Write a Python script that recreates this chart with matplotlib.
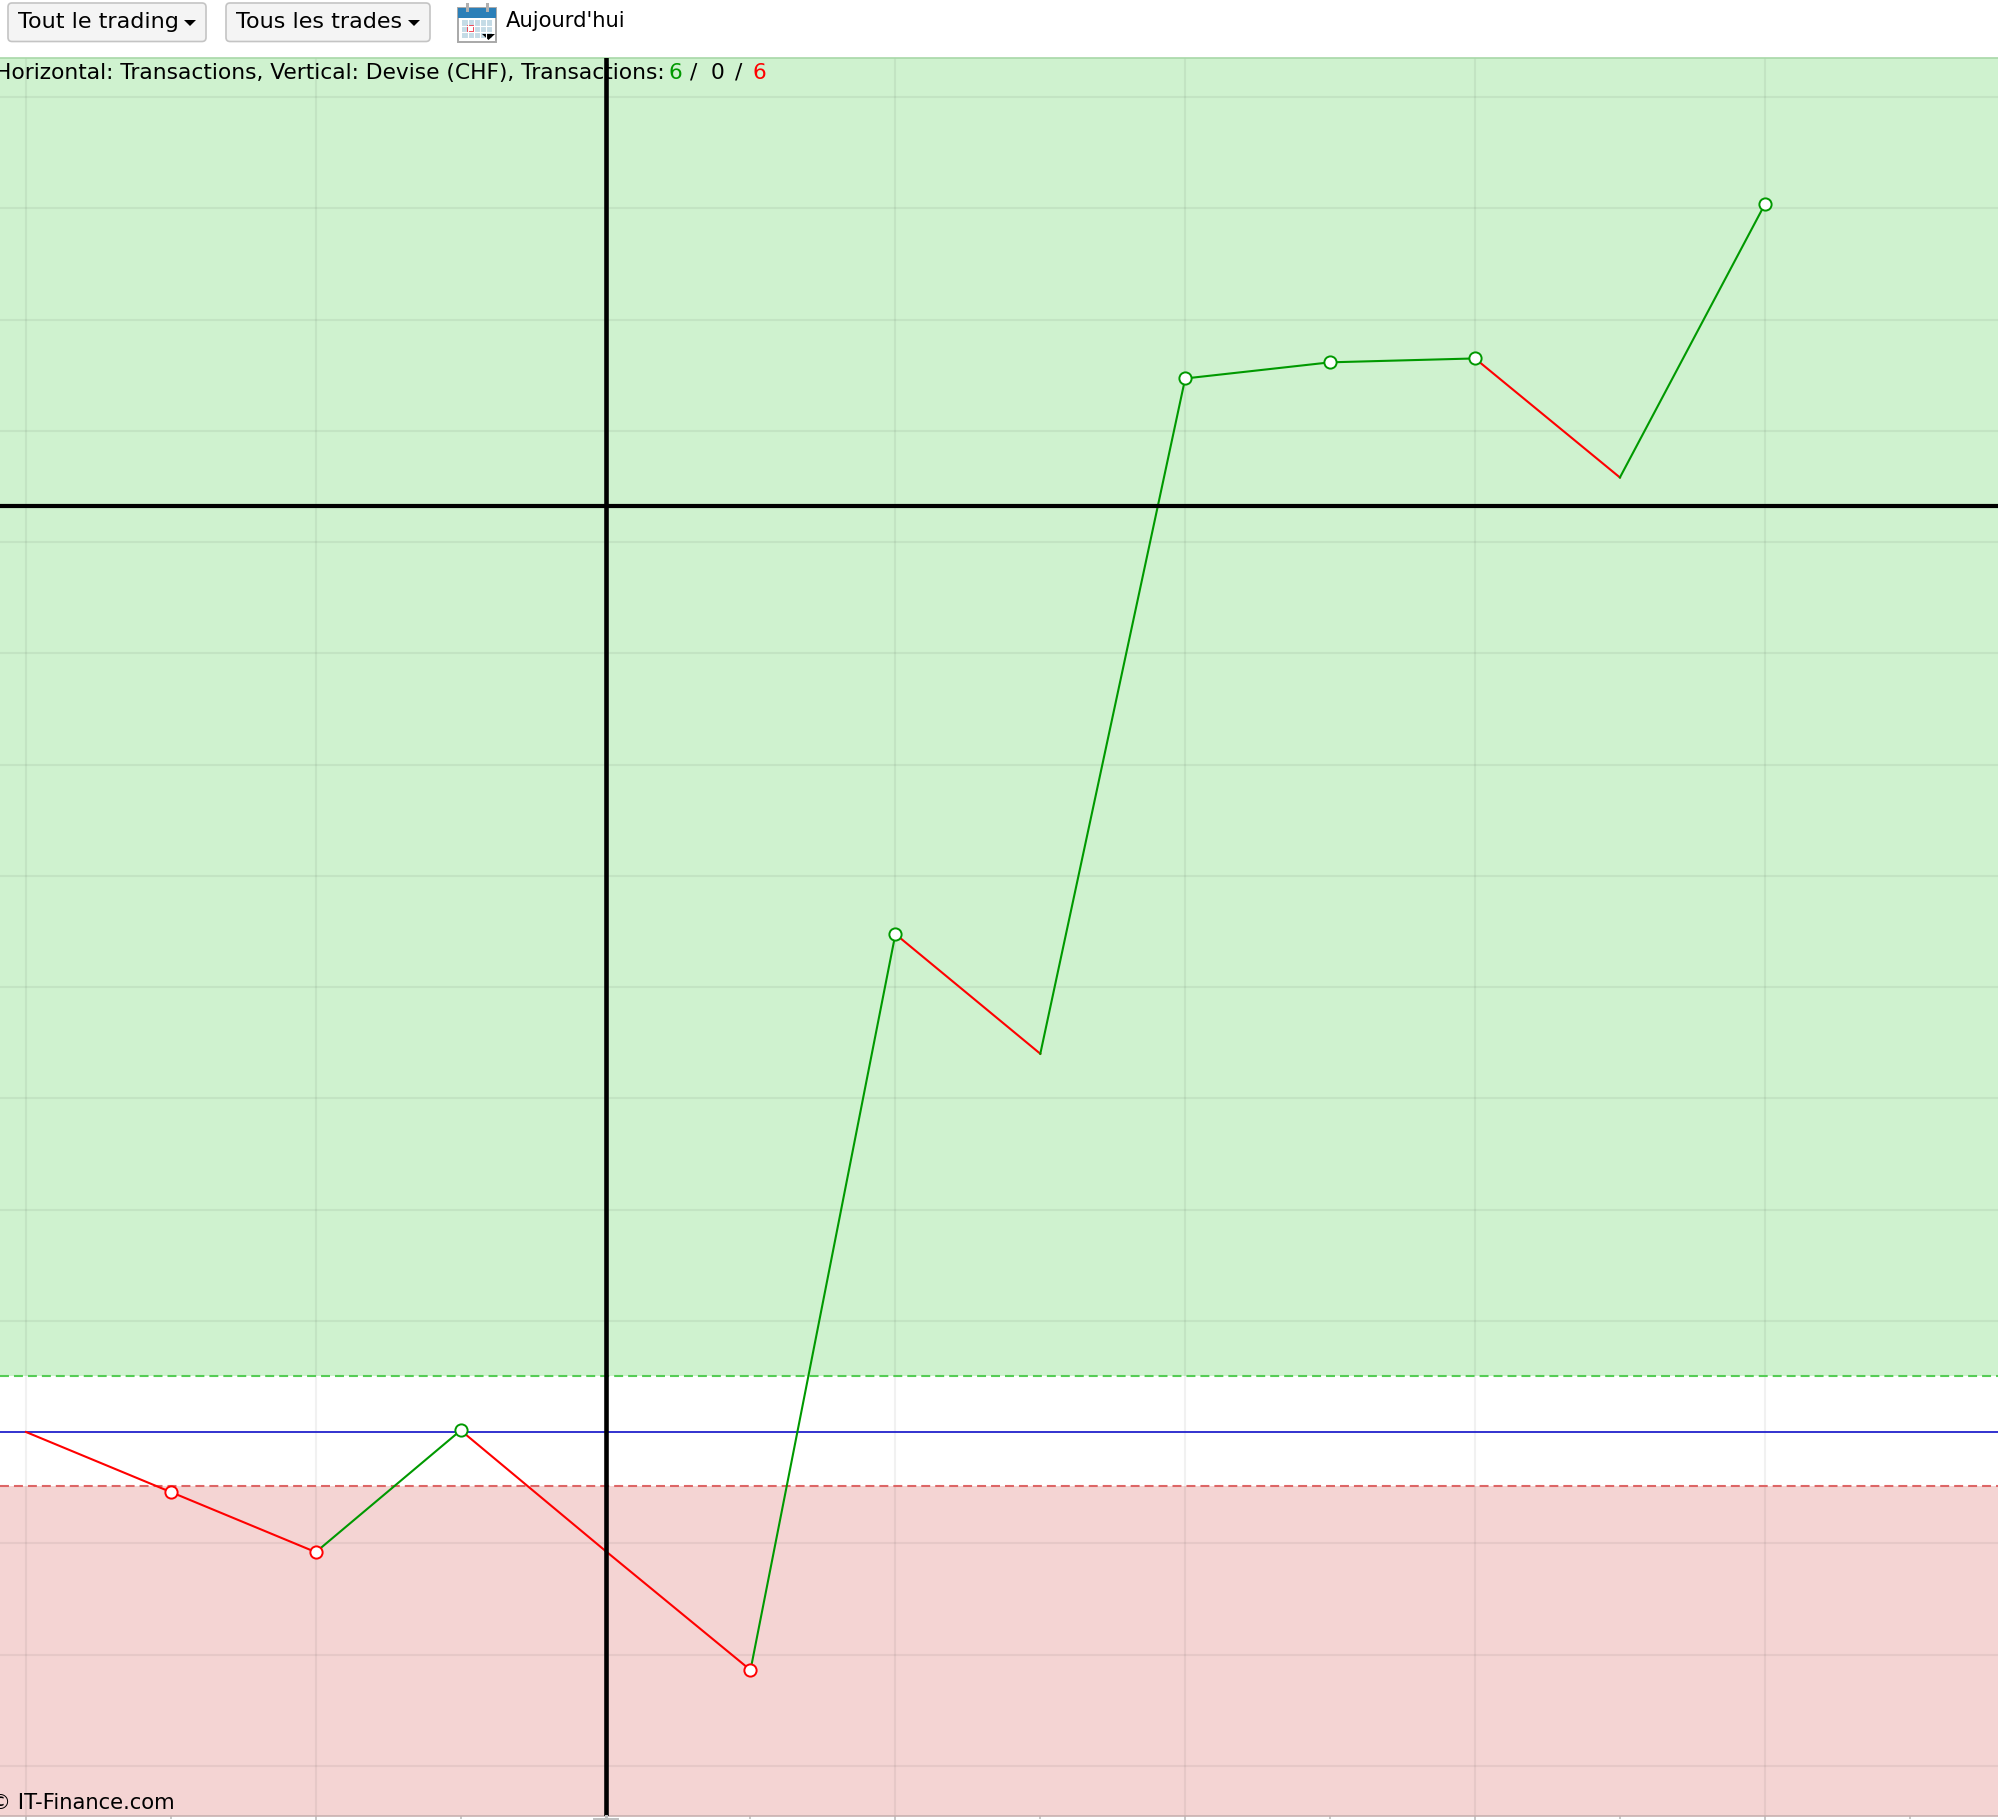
#!/usr/bin/env python
"""Equity curve of a trading account, with the toolbar above it."""

import matplotlib

matplotlib.use("Agg")
import matplotlib.pyplot as plt
from matplotlib.patches import FancyBboxPatch, Polygon, Rectangle

WIDTH, HEIGHT = 1998, 1820
PLOT_TOP, PLOT_BOTTOM = 58, 1816

# Trade number and running result, one grid step read as 100 CHF
trades = [0, 1, 2, 3, 4, 5, 6, 7, 8, 9, 10, 11, 12]
balance = [0, -54, -108, 1.5, -107, -214, 447.6, 340, 947, 961.5, 965, 858, 1103.5]
has_marker = [False, True, True, True, False, True, True, False, True, True, True, False, True]
marker_is_green = [False, False, False, True, False, False, True, False, True, True, True, False, True]

upper_band = 50.6
lower_band = -48.5
cross_x = 4
cross_y = 832
y_grid = [-300, -200, -100, 0, 100, 200, 300, 400, 500, 600, 700, 800, 900, 1000, 1100, 1200]
x_major = [0, 2, 4, 6, 8, 10, 12]
x_minor = [1, 3, 5, 7, 9, 11, 13]

button_labels = ["Tout le trading", "Tous les trades"]
today_label = "Aujourd'hui"
info_label = "Horizontal: Transactions, Vertical: Devise (CHF), Transactions:"
won, even, lost = 6, 0, 6
copyright_label = "© IT-Finance.com"

GREEN = "#009900"
RED = "#ff0000"
FONT = "DejaVu Sans"

fig = plt.figure(figsize=(WIDTH / 100, HEIGHT / 100), dpi=100, facecolor="white")

# main plot
ax = fig.add_axes(
    [0, 1 - PLOT_BOTTOM / HEIGHT, 1, (PLOT_BOTTOM - PLOT_TOP) / HEIGHT]
)
ax.set_xticks(x_major)
ax.set_xticks(x_minor, minor=True)
ax.set_yticks([])
ax.set_xlim(-26 / 144.9, (WIDTH - 26) / 144.9)
ax.set_ylim((1432 - PLOT_BOTTOM) / 1.1125, (1432 - PLOT_TOP) / 1.1125)

ax.axhspan(upper_band, ax.get_ylim()[1], color="#cff2cf", lw=0, zorder=0)
ax.axhspan(ax.get_ylim()[0], lower_band, color="#f4d4d3", lw=0, zorder=0)

for y in y_grid:
    if lower_band < y < upper_band:
        continue
    ax.axhline(y, color="black", alpha=0.055, lw=1.5, zorder=1)
for x in x_major:
    ax.axvline(x, color="black", alpha=0.055, lw=1.5, zorder=1)

ax.axhline(upper_band, color="#55cc55", lw=1.5, dashes=(4.3, 2.4), zorder=2)
ax.axhline(lower_band, color="#dd6666", lw=1.5, dashes=(4.3, 2.4), zorder=2)
ax.axhline(0, color="#2222cc", lw=1.3, zorder=2)

# each segment takes its colour from its direction
for i in range(len(trades) - 1):
    colour = GREEN if balance[i + 1] > balance[i] else RED
    ax.plot(trades[i:i + 2], balance[i:i + 2], color=colour, lw=1.5, zorder=3)

ax.axvline(cross_x, color="black", lw=3.3, zorder=4)
ax.axhline(cross_y, color="black", lw=3.0, zorder=4)

for i, shown in enumerate(has_marker):
    if not shown:
        continue
    colour = GREEN if marker_is_green[i] else RED
    ax.plot(
        trades[i], balance[i], "o", ms=8.8, mfc="white", mec=colour, mew=1.4, zorder=5
    )

ax.tick_params(axis="x", which="major", length=3, width=1.2, color="#c0c0c0", labelbottom=False)
ax.tick_params(axis="x", which="minor", length=2, width=1.2, color="#c0c0c0")
for side in ("left", "right"):
    ax.spines[side].set_visible(False)
ax.spines["top"].set_color("#a8d8a8")
ax.spines["bottom"].set_color("#c8b0b0")
ax.spines["top"].set_linewidth(1.2)
ax.spines["bottom"].set_linewidth(1.2)

# toolbar and captions, laid out in screen pixels
ui = fig.add_axes([0, 0, 1, 1], facecolor="none")
ui.set_xlim(0, WIDTH)
ui.set_ylim(HEIGHT, 0)
ui.axis("off")


def button(x0, x1, label, caret_x):
    ui.add_patch(
        FancyBboxPatch(
            (x0, 3), x1 - x0, 38.5,
            boxstyle="round,pad=0,rounding_size=4",
            fc="#f4f4f4", ec="#c4c4c4", lw=1.2,
        )
    )
    ui.text(x0 + 10, 22, label, fontsize=16, family=FONT, va="center", color="black")
    ui.add_patch(
        Polygon(
            [(caret_x, 20), (caret_x + 12, 20), (caret_x + 6, 26)], fc="black", ec="none"
        )
    )


button(8, 206, button_labels[0], 184)
button(226, 430, button_labels[1], 408)

# calendar icon
ui.add_patch(Rectangle((458, 8), 38, 34, fc="white", ec="#a8a8a8", lw=1.4))
ui.add_patch(Rectangle((458, 8), 38, 10, fc="#2b7fb8", ec="none"))
for rx in (467, 487):
    ui.add_patch(Rectangle((rx - 1.5, 3), 3, 9, fc="#b0b0b0", ec="none"))
ui.add_patch(Rectangle((462, 20), 30, 18, fc="#c4dbe6", ec="none"))
for gx in (468, 474, 480, 486):
    ui.plot([gx, gx], [20, 38], color="white", lw=0.8)
for gy in (26, 32):
    ui.plot([462, 492], [gy, gy], color="white", lw=0.8)
ui.add_patch(Rectangle((468, 26), 6, 6, fc="white", ec="#f04050", lw=1.4))
ui.add_patch(Polygon([(482, 34), (495, 34), (488.5, 40)], fc="black", ec="none"))

ui.text(506, 21, today_label, fontsize=15.2, family=FONT, va="center", color="black")

ui.text(-5, 73, info_label, fontsize=15.65, family=FONT, va="center", color="black")
ui.text(668, 73, str(won), fontsize=15.65, family=FONT, va="center", color=GREEN)
ui.text(690, 73, "/", fontsize=15.65, family=FONT, va="center", color="black")
ui.text(711, 73, str(even), fontsize=15.65, family=FONT, va="center", color="black")
ui.text(735, 73, "/", fontsize=15.65, family=FONT, va="center", color="black")
ui.text(753, 73, str(lost), fontsize=15.65, family=FONT, va="center", color=RED)

ui.text(-10, 1803, copyright_label, fontsize=15.2, family=FONT, va="center", color="black")

# wider tick under the vertical cross line
ui.plot([594, 618], [1819, 1819], color="#c0c0c0", lw=1.4)
ui.plot([606, 606], [1816, 1819], color="#c0c0c0", lw=2.2)

fig.savefig("out.png", dpi=100)
